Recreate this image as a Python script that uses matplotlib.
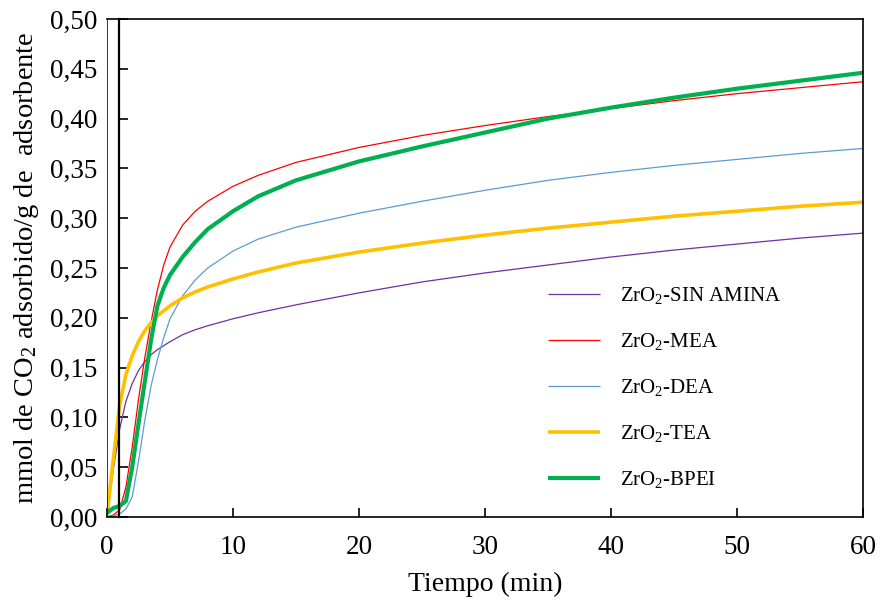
import matplotlib
matplotlib.use("Agg")
from matplotlib import pyplot as plt
from matplotlib.ticker import FuncFormatter

plt.rcParams["font.family"] = ["Liberation Serif", "DejaVu Serif"]
plt.rcParams["mathtext.fontset"] = "custom"
plt.rcParams["mathtext.rm"] = "Liberation Serif"
plt.rcParams["mathtext.default"] = "regular"

# tiempo (min)
tiempo = [0, 0.5, 1, 1.5, 2, 2.5, 3, 3.5, 4, 4.5, 5, 6, 7, 8, 10, 12, 15,
          20, 25, 30, 35, 40, 45, 50, 55, 60]

# mmol CO2 / g adsorbente
sin_amina = [0.000, 0.048, 0.088, 0.116, 0.134, 0.147, 0.156, 0.163, 0.168, 0.172,
             0.176, 0.183, 0.188, 0.192, 0.199, 0.205, 0.213,
             0.225, 0.236, 0.245, 0.253, 0.261, 0.268, 0.274, 0.280, 0.285]
mea = [0.000, 0.002, 0.007, 0.030, 0.070, 0.118, 0.160, 0.196, 0.228, 0.253,
       0.271, 0.293, 0.307, 0.317, 0.332, 0.343, 0.356,
       0.371, 0.383, 0.393, 0.402, 0.410, 0.418, 0.425, 0.431, 0.437]
dea = [0.000, 0.001, 0.003, 0.008, 0.020, 0.056, 0.097, 0.132, 0.158, 0.180,
       0.199, 0.222, 0.238, 0.250, 0.267, 0.279, 0.291,
       0.305, 0.317, 0.328, 0.338, 0.346, 0.353, 0.359, 0.365, 0.370]
tea = [0.002, 0.058, 0.112, 0.143, 0.162, 0.176, 0.187, 0.195, 0.202, 0.207,
       0.212, 0.220, 0.226, 0.231, 0.239, 0.246, 0.255,
       0.266, 0.275, 0.283, 0.290, 0.296, 0.302, 0.307, 0.312, 0.316]
bpei = [0.004, 0.009, 0.011, 0.016, 0.050, 0.094, 0.136, 0.178, 0.212, 0.230,
        0.243, 0.261, 0.276, 0.289, 0.307, 0.322, 0.338,
        0.357, 0.372, 0.386, 0.400, 0.411, 0.421, 0.430, 0.438, 0.446]

series = [
    (sin_amina, "ZrO$_2$-SIN AMINA", "#7030A0", 0.9),
    (mea, "ZrO$_2$-MEA", "#FF0000", 0.9),
    (dea, "ZrO$_2$-DEA", "#5B9BD5", 0.9),
    (tea, "ZrO$_2$-TEA", "#FFC000", 2.6),
    (bpei, "ZrO$_2$-BPEI", "#00B050", 3.0),
]

fig = plt.figure(figsize=(8.8, 6.08), dpi=100)
ax = fig.add_axes([0.1216, 0.1497, 0.8591, 0.8191])

for vals, lab, col, lw in series:
    ax.plot(tiempo, vals, color=col, lw=lw, label=lab, solid_capstyle="butt")

ax.set_xlim(0, 60)
ax.set_ylim(0, 0.5)
ax.set_xticks(range(0, 61, 10))
ax.set_yticks([i * 0.05 for i in range(11)])
ax.yaxis.set_major_formatter(FuncFormatter(lambda v, p: ("%.2f" % v).replace(".", ",")))

# eje y desplazado (como en el original), borde del area en x=0
ax.spines["left"].set_position(("data", 0.95))
ax.spines["left"].set_linewidth(1.6)
ax.axvline(0, color="black", lw=1.1)
for s in ["top", "right", "bottom"]:
    ax.spines[s].set_linewidth(1.2)

ax.tick_params(axis="y", direction="in", length=6.5, width=1.2, pad=15.5,
               labelsize=19.5)
ax.tick_params(axis="x", direction="in", length=6.5, width=1.2, pad=13,
               labelsize=19.5)

ax.set_xlabel("Tiempo (min)", fontsize=20)
ax.xaxis.set_label_coords(0.5, -0.11)
ax.set_ylabel("mmol de CO$_2$ adsorbido/g de  adsorbente", fontsize=20.5)
ax.yaxis.set_label_coords(-0.087, 0.5)

ax.legend(loc="center left", bbox_to_anchor=(0.583, 0.26), frameon=False,
          fontsize=15, handlelength=2.5, handletextpad=0.95, labelspacing=1.2,
          borderpad=0, borderaxespad=0)

fig.savefig("out.png", dpi=100)
